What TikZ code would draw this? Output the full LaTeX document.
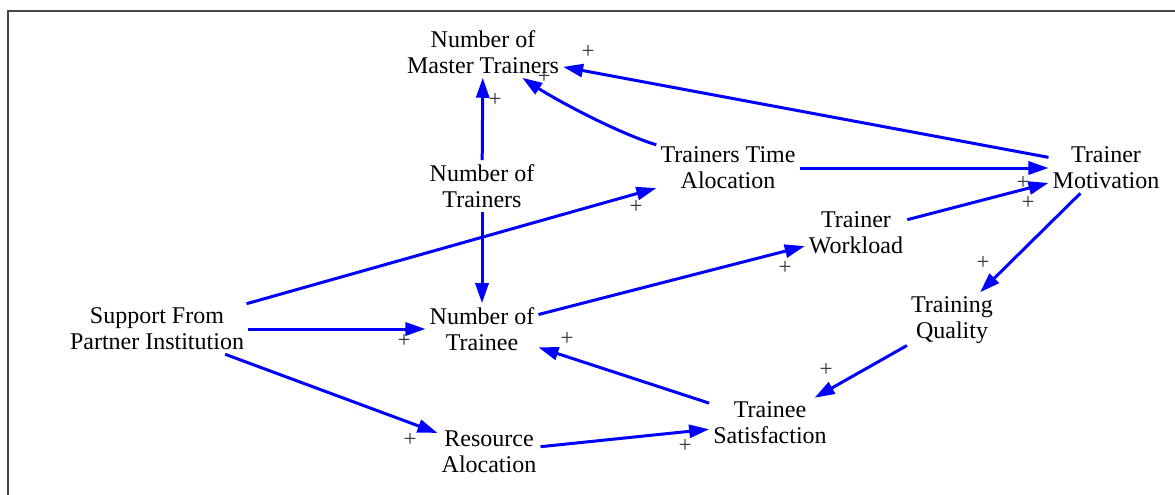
\documentclass[tikz,border=0pt]{standalone}
\usepackage{fontspec}
\setmainfont{Liberation Serif}
\usetikzlibrary{arrows.meta}

\definecolor{linkblue}{RGB}{0,0,255}
\definecolor{framegray}{RGB}{72,72,72}
\newcommand\varfont{\fontsize{24}{26}\selectfont}
\newcommand\polfont{\fontsize{23}{23}\selectfont}

\begin{document}
\begin{tikzpicture}[x=1pt,y=-1pt,
  var/.style={font=\varfont, align=center, inner sep=4pt, anchor=center},
  link/.style={draw=linkblue, line width=3pt, -{Triangle[length=20pt,width=13pt]}},
  pol/.style={font=\polfont, inner sep=0pt, text=black!80}]
  \useasboundingbox (0,0) rectangle (1175,495);

  % frame (only the top and left edges fall inside the page)
  \draw[framegray, line width=2.5pt] (8,495) -- (8,11) -- (1175,11);

  % variables
  \node[var] (mt)  at (483,52)  {Number of\\Master Trainers};
  \node[var] (nt)  at (482,186) {Number of\\Trainers};
  \node[var] (tta) at (728,168) {Trainers Time\\Alocation};
  \node[var] (tm)  at (1106,168) {Trainer\\Motivation};
  \node[var] (tw)  at (856,233) {Trainer\\Workload};
  \node[var] (tq)  at (952,320) {Training\\Quality};
  \node[var] (spi) at (157,329) {Support From\\Partner Institution};
  \node[var] (nte) at (482,329) {Number of\\Trainee};
  \node[var] (ts)  at (770,423) {Trainee\\Satisfaction};
  \node[var] (ra)  at (489,452) {Resource\\Alocation};

  % causal links
  \draw[link] (nt) -- (mt);
  \draw[link] (nt) -- (nte);
  \draw[link] (tta) .. controls (610,130) and (550,96) .. (mt);
  \draw[link] (tm) -- (mt);
  \draw[link] (tta) -- (tm);
  \draw[link] (tw) -- (tm);
  \draw[link] (spi) -- (tta);
  \draw[link] (spi) -- (nte);
  \draw[link] (spi) -- (ra);
  \draw[link] (nte) -- (tw);
  \draw[link] (tm) -- (tq);
  \draw[link] (tq) -- (ts);
  \draw[link] (ts) -- (nte);
  \draw[link] (ra) -- (ts);

  % link polarities
  \node[pol] (p1)  at (495,100) {+};
  \node[pol] (p2)  at (544,77)  {+};
  \node[pol] (p3)  at (588,52)  {+};
  \node[pol] (p4)  at (1023,183) {+};
  \node[pol] (p5)  at (1028,203) {+};
  \node[pol] (p6)  at (636,207) {+};
  \node[pol] (p7)  at (404,341) {+};
  \node[pol] (p8)  at (410,440) {+};
  \node[pol] (p9)  at (785,268) {+};
  \node[pol] (p10) at (983,263) {+};
  \node[pol] (p11) at (826,370) {+};
  \node[pol] (p12) at (567,339) {+};
  \node[pol] (p13) at (685,446) {+};
\end{tikzpicture}
\end{document}
